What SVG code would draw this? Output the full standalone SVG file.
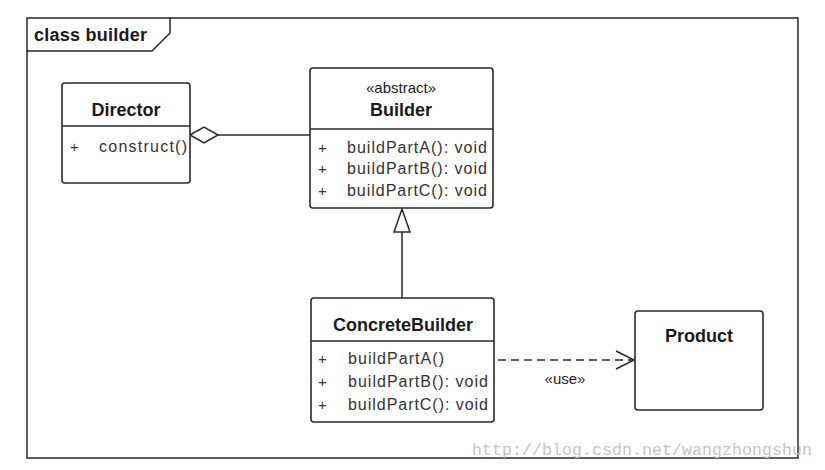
<svg xmlns="http://www.w3.org/2000/svg" width="825" height="470" viewBox="0 0 825 470">
<style>
  .box { fill: #ffffff; stroke: #2a2a2a; stroke-width: 1.6; }
  .div { stroke: #2a2a2a; stroke-width: 1.3; }
  .title { font-family: "Liberation Sans", Arial, sans-serif; font-weight: bold; font-size: 18px; fill: #1a1a1a; text-anchor: middle; }
  .stereo { font-family: "Liberation Sans", Arial, sans-serif; font-size: 15px; fill: #222; text-anchor: middle; }
  .m { font-family: "Liberation Sans", Arial, sans-serif; font-size: 16px; fill: #333; }
  .vis { font-family: "Liberation Sans", Arial, sans-serif; font-size: 15px; fill: #333; }
  .line { stroke: #2a2a2a; stroke-width: 1.5; fill: none; }
  .wm { font-family: "Liberation Mono", "DejaVu Sans Mono", monospace; font-size: 16.5px; fill: #c4c4c4; }
</style>
<rect width="825" height="470" fill="#ffffff"/>

<g id="frame">
  <rect x="27" y="18" width="771" height="440" fill="none" stroke="#2a2a2a" stroke-width="1.5"/>
  <path d="M27 51 H152 L170 33 V18" fill="none" stroke="#2a2a2a" stroke-width="1.5"/>
  <text x="34" y="41" font-family="Liberation Sans, Arial, sans-serif" font-weight="bold" font-size="18" fill="#1a1a1a" textLength="113">class builder</text>
</g>

<g id="connectors">
  <line class="line" x1="218" y1="135" x2="310" y2="135"/>
  <polygon points="190,135 204,127 218,135 204,143" fill="#ffffff" stroke="#2a2a2a" stroke-width="1.5"/>
  <line class="line" x1="402" y1="232" x2="402" y2="298"/>
  <polygon points="402,209 394,232 410,232" fill="#ffffff" stroke="#2a2a2a" stroke-width="1.5"/>
  <line class="line" x1="498" y1="360" x2="633" y2="360" stroke-dasharray="8,5"/>
  <path class="line" d="M616 351 L634 360 L616 369"/>
  <text x="565" y="384" class="stereo">«use»</text>
</g>

<g id="Director">
  <rect class="box" x="62" y="83" width="128" height="100" rx="3"/>
  <line class="div" x1="62" y1="126" x2="190" y2="126"/>
  <text x="126" y="116" class="title">Director</text>
  <text x="70" y="152" class="vis">+</text>
  <text x="99" y="152" class="m" textLength="88">construct()</text>
</g>

<g id="Builder">
  <rect class="box" x="310" y="68" width="183" height="140" rx="3"/>
  <line class="div" x1="310" y1="129" x2="493" y2="129"/>
  <text x="401" y="93" class="stereo">«abstract»</text>
  <text x="401" y="116" class="title">Builder</text>
  <text x="318" y="153" class="vis">+</text>
  <text x="347" y="153" class="m" textLength="140">buildPartA(): void</text>
  <text x="318" y="174" class="vis">+</text>
  <text x="347" y="174" class="m" textLength="140">buildPartB(): void</text>
  <text x="318" y="196" class="vis">+</text>
  <text x="347" y="196" class="m" textLength="140">buildPartC(): void</text>
</g>

<g id="ConcreteBuilder">
  <rect class="box" x="311" y="298" width="183" height="124" rx="3"/>
  <line class="div" x1="311" y1="341" x2="494" y2="341"/>
  <text x="403" y="331" class="title">ConcreteBuilder</text>
  <text x="318" y="364" class="vis">+</text>
  <text x="348" y="364" class="m" textLength="96">buildPartA()</text>
  <text x="318" y="387" class="vis">+</text>
  <text x="348" y="387" class="m" textLength="140">buildPartB(): void</text>
  <text x="318" y="410" class="vis">+</text>
  <text x="348" y="410" class="m" textLength="140">buildPartC(): void</text>
</g>

<g id="Product">
  <rect class="box" x="635" y="311" width="128" height="99" rx="3"/>
  <text x="699" y="342" class="title">Product</text>
</g>

<text x="472" y="455" class="wm" textLength="340">http://blog.csdn.net/wangzhongshun</text>
</svg>
